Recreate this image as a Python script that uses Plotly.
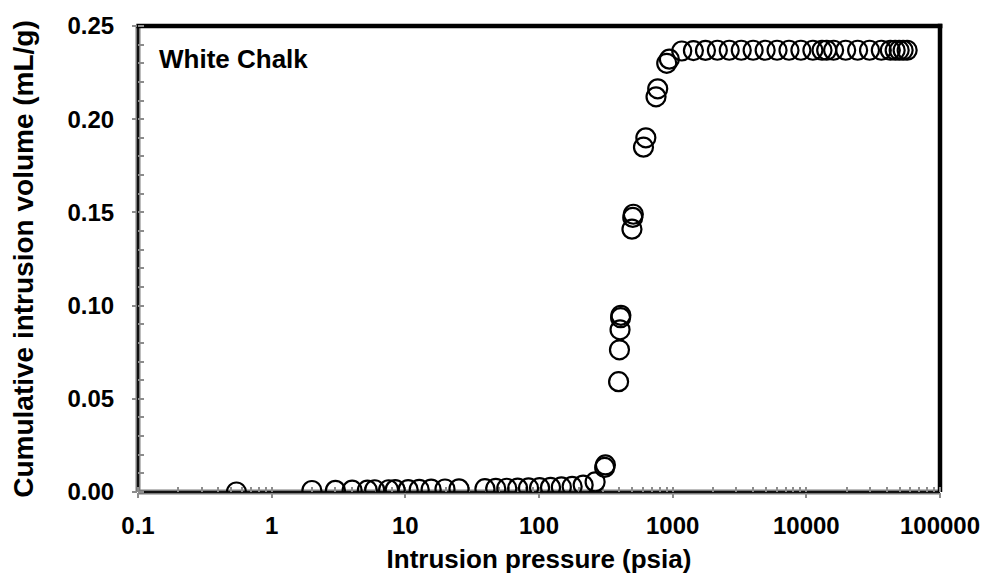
import plotly.graph_objects as go

# Mercury intrusion data for the white chalk sample
pressure_psia = [
    0.545, 2.0, 3.0, 4.0, 5.2, 5.9, 7.5, 8.4, 10.5, 12.7, 15.6, 19.8, 25.2,
    39.4, 47.5, 57.4, 69.2, 83.5, 101, 122, 147, 177, 214, 263,
    310, 314,
    394, 400, 404, 408, 410,
    496, 503, 508,
    605, 630, 751, 773, 903, 945,
    1170, 1430, 1760, 2160, 2650, 3260, 4000, 4920, 6040, 7420, 9110,
    11200, 13100, 14200, 16000, 19700, 24200, 29700, 36400, 42500, 46200,
    49500, 53000, 56800,
]
cum_volume_ml_g = [
    0.0000, 0.0008, 0.0009, 0.0010, 0.0010, 0.0012, 0.0012, 0.0013, 0.0013,
    0.0014, 0.0015, 0.0016, 0.0017,
    0.0018, 0.0019, 0.0020, 0.0021, 0.0022, 0.0023, 0.0025, 0.0027, 0.0030,
    0.0037, 0.0054,
    0.0132, 0.0145,
    0.0592, 0.0763, 0.0870, 0.0935, 0.0948,
    0.1410, 0.1473, 0.1490,
    0.1850, 0.1900, 0.2120, 0.2163, 0.2300, 0.2322,
    0.2366, 0.2368, 0.2369, 0.2370, 0.2370, 0.2370, 0.2370, 0.2370, 0.2370,
    0.2370, 0.2370, 0.2370, 0.2370, 0.2370, 0.2370, 0.2370, 0.2370, 0.2370,
    0.2370, 0.2370, 0.2370, 0.2370, 0.2370, 0.2370,
]

x_tick_vals = [0.1, 1, 10, 100, 1000, 10000, 100000]
x_tick_text = ["0.1", "1", "10", "100", "1000", "10000", "100000"]
y_tick_vals = [0.00, 0.05, 0.10, 0.15, 0.20, 0.25]

FONT = "Arial, Liberation Sans, sans-serif"
TICK_GREY = "#8c8c8c"

fig = go.Figure()

fig.add_trace(go.Scatter(
    x=pressure_psia,
    y=cum_volume_ml_g,
    mode="markers",
    marker=dict(symbol="circle-open", size=19, color="black",
                line=dict(color="black", width=2.2)),
    showlegend=False,
    hoverinfo="x+y",
))

# empty trace so the overlay axes (inside major ticks) are drawn
fig.add_trace(go.Scatter(x=[], y=[], xaxis="x2", yaxis="y2",
                         showlegend=False, hoverinfo="skip"))

fig.update_layout(
    width=992,
    height=582,
    margin=dict(l=138, r=45, t=19, b=90),
    paper_bgcolor="white",
    plot_bgcolor="white",
    font=dict(family=FONT, color="black"),
    xaxis=dict(
        type="log",
        range=[-1, 5],
        tickvals=x_tick_vals,
        ticktext=x_tick_text,
        ticks="outside",
        ticklen=5,
        tickwidth=2,
        tickcolor=TICK_GREY,
        tickfont=dict(size=24, family=FONT, color="black", weight="bold"),
        ticklabelstandoff=7,
        showgrid=False,
        zeroline=False,
        showline=False,
        layer="below traces",
        minor=dict(dtick="D1", ticks="inside", ticklen=5, tickwidth=2,
                   tickcolor=TICK_GREY, showgrid=False),
        title=dict(text="<b>Intrusion pressure (psia)</b>",
                   font=dict(size=26, family=FONT, color="black"),
                   standoff=12),
    ),
    yaxis=dict(
        range=[0, 0.25],
        tickvals=y_tick_vals,
        tickformat=".2f",
        ticks="outside",
        ticklen=5,
        tickwidth=2,
        tickcolor=TICK_GREY,
        tickfont=dict(size=24, family=FONT, color="black", weight="bold"),
        ticklabelstandoff=13,
        showgrid=False,
        zeroline=False,
        showline=False,
        layer="below traces",
        minor=dict(dtick=0.01, ticks="inside", ticklen=6, tickwidth=2,
                   tickcolor=TICK_GREY, showgrid=False),
        title=dict(text="<b>Cumulative intrusion volume (mL/g)</b>",
                   font=dict(size=28, family=FONT, color="black"),
                   standoff=25),
    ),
    xaxis2=dict(
        type="log", range=[-1, 5], overlaying="x", tickvals=x_tick_vals,
        ticks="inside", ticklen=5, tickwidth=2, tickcolor=TICK_GREY,
        showticklabels=False, showgrid=False, zeroline=False,
        showline=False, layer="below traces", side="bottom",
    ),
    yaxis2=dict(
        range=[0, 0.25], overlaying="y", tickvals=y_tick_vals,
        ticks="inside", ticklen=5, tickwidth=2, tickcolor=TICK_GREY,
        showticklabels=False, showgrid=False, zeroline=False,
        showline=False, layer="below traces", side="left",
    ),
    annotations=[
        dict(text="<b>White Chalk</b>", xref="paper", yref="paper",
             x=0.024, y=0.93, xanchor="left", yanchor="middle",
             showarrow=False, font=dict(size=26, family=FONT, color="black")),
    ],
    shapes=[
        # left and bottom axis lines: grey edge with dark core
        dict(type="line", xref="paper", yref="paper", x0=0, x1=0, y0=0, y1=1,
             line=dict(color="#7a7a7a", width=5), layer="below"),
        dict(type="line", xref="paper", yref="paper", x0=0, x1=1, y0=0, y1=0,
             line=dict(color="#7a7a7a", width=5), layer="below"),
        dict(type="line", xref="paper", yref="paper", x0=0, x1=0, y0=0, y1=1,
             line=dict(color="#111111", width=2), layer="below"),
        dict(type="line", xref="paper", yref="paper", x0=0, x1=1, y0=0, y1=0,
             line=dict(color="#111111", width=2), layer="below"),
        # heavy black frame along the top and right
        dict(type="line", xref="paper", yref="paper", x0=-0.002, x1=1.003,
             y0=1, y1=1, line=dict(color="black", width=4.5), layer="below"),
        dict(type="line", xref="paper", yref="paper", x0=1, x1=1,
             y0=0, y1=1.005, line=dict(color="black", width=4.5),
             layer="below"),
    ],
)

fig.write_html("out.html")
